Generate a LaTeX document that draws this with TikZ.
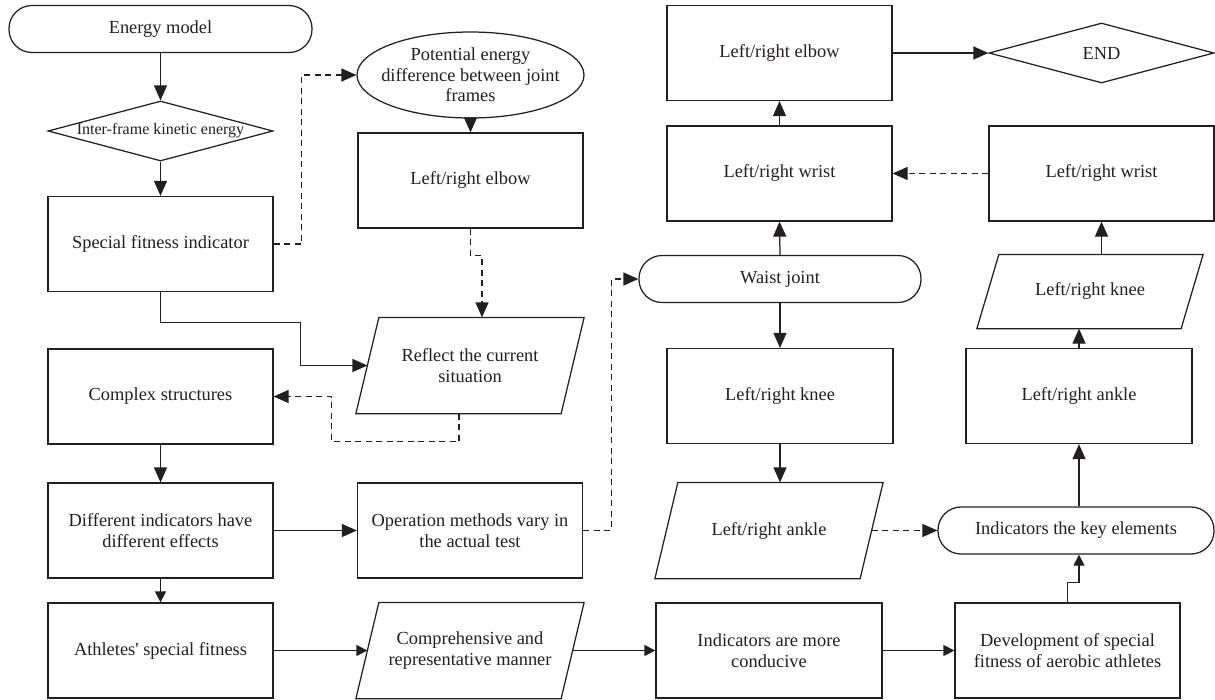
\documentclass[tikz,border=0pt]{standalone}
\usepackage{fontspec}
\setmainfont{Liberation Serif}
\usetikzlibrary{arrows.meta,shapes.geometric,calc}
\definecolor{ink}{HTML}{231F20}
\newcommand\paradraw[2]{\draw ([xshift=#2]#1.north west) -- ([xshift=#2]#1.north east) -- ([xshift=-#2]#1.south east) -- ([xshift=-#2]#1.south west) -- cycle;}
\begin{document}
\begin{tikzpicture}[x=1pt,y=-1pt,line width=1.25pt,draw=ink,text=ink,
  font=\fontsize{18.4}{21.5}\selectfont,
  box/.style={draw,rectangle,minimum width=225pt,minimum height=95pt,inner sep=2pt,align=center},
  stad/.style={draw,rectangle,rounded corners=23pt,minimum height=47pt,inner sep=2pt,align=center},
  para/.style={rectangle,minimum width=204pt,minimum height=95pt,inner sep=2pt,align=center},
  dia/.style={draw,diamond,aspect=3.75,inner sep=0pt,minimum width=225pt,minimum height=60pt},
  ell/.style={draw,ellipse,inner sep=0pt,minimum width=227pt,minimum height=86pt},
  txt/.style={align=center,inner sep=0pt},
  arr/.style={-{Triangle[length=15pt,width=13pt]}},
  sarr/.style={-{Triangle[length=11pt,width=11pt]}},
  darr/.style={arr,dash pattern=on 6pt off 4.5pt}]
\useasboundingbox (0,0) rectangle (1215,699);
% column 1
\node[stad,minimum width=303pt] (em) at (160.5,29) {Energy model};
\node[dia] (ike) at (160.5,131) {};
\node[txt,font=\fontsize{16}{19}\selectfont] (iket) at (ike.center) {Inter-frame kinetic energy};
\node[box] (sfi) at (160.5,244) {Special fitness indicator};
\node[box] (cs) at (160.5,396.5) {Complex structures};
\node[box] (dide) at (160.5,530.5) {Different indicators have\\different effects};
\node[box] (asf) at (160.5,650.5) {Athletes\textquotesingle{} special fitness};
% column 2
\node[ell] (ped) at (470.5,75) {};
\node[txt,font=\fontsize{18.4}{20.5}\selectfont] (pedt) at (ped.center) {Potential energy\\difference between joint\\frames};
\node[box] (elb1) at (470.5,180.5) {Left/right elbow};
\node[para] (rcs) at (470,365.5) {Reflect the current\\situation};
\paradraw{rcs}{11.5pt}
\node[box] (omv) at (470,530.5) {Operation methods vary in\\the actual test};
\node[para] (crm) at (470,650.5) {Comprehensive and\\representative manner};
\paradraw{crm}{11.5pt}
% column 3
\node[box] (elb2) at (779.5,53) {Left/right elbow};
\node[box] (wr1) at (779.5,173.5) {Left/right wrist};
\node[stad,minimum width=282pt] (waist) at (780,279) {Waist joint};
\node[box,minimum width=226pt] (lrk) at (780,396) {Left/right knee};
\node[para] (ra) at (769,530.5) {Left/right ankle};
\paradraw{ra}{11.5pt}
\node[box,minimum width=226pt] (iamc) at (769,650.5) {Indicators are more\\conducive};
% column 4
\node[dia] (end) at (1101.5,53) {};
\node[txt] (endt) at (end.center) {END};
\node[box] (wr2) at (1101.5,173.5) {Left/right wrist};
\node[para,minimum width=203pt,minimum height=73pt] (kn2) at (1090,291.5) {Left/right knee};
\paradraw{kn2}{11pt}
\node[box,minimum width=226pt] (an2) at (1079,396) {Left/right ankle};
\node[stad,minimum width=276pt] (key) at (1076,530.5) {Indicators the key elements};
\node[box] (dsf) at (1067.5,650.5) {Development of special\\fitness of aerobic athletes};
% connectors
\draw[arr] (em.south) -- (ike.north);
\draw[arr] (ike.south) -- (sfi.north);
\draw[darr] (sfi.east) -- ++(28,0) |- (ped.west);
\draw[arr] (ped.south) -- (elb1.north);
\draw[darr] (elb1.south) -- ++(0,27) -| ([xshift=12pt]rcs.north);
\draw[arr] (sfi.south) -- ++(0,30) -| ([xshift=-67pt]rcs.west) -- (rcs.west);
\draw[darr] ([xshift=-11pt]rcs.south) -- ++(0,28) -| ([xshift=58pt]cs.east) -- (cs.east);
\draw[arr] (cs.south) -- (dide.north);
\draw[arr] (dide.east) -- (omv.west);
\draw[sarr] (dide.south) -- (asf.north);
\draw[darr] (omv.east) -- ++(28,0) |- (waist.west);
\draw[sarr] (asf.east) -- (crm.west);
\draw[sarr] (crm.east) -- (iamc.west);
\draw[sarr] (iamc.east) -- (dsf.west);
\draw[sarr] (dsf.north) -- ++(0,-20) -| ([xshift=3pt]key.south);
\draw[arr] ([xshift=3pt]key.north) -- (an2.south);
\draw[arr] (an2.north) -- (an2.north |- kn2.south);
\draw[arr] (wr2.south |- kn2.north) -- (wr2.south);
\draw[darr] (wr2.west) -- (wr1.east);
\draw[arr] (wr1.north) -- (elb2.south);
\draw[arr] (elb2.east) -- (end.west);
\draw[arr] (waist.north) -- (wr1.south);
\draw[arr] (waist.south) -- (lrk.north);
\draw[arr] (lrk.south) -- (lrk.south |- ra.north);
\draw[darr] (ra.east) -- (key.west);
\end{tikzpicture}
\end{document}
